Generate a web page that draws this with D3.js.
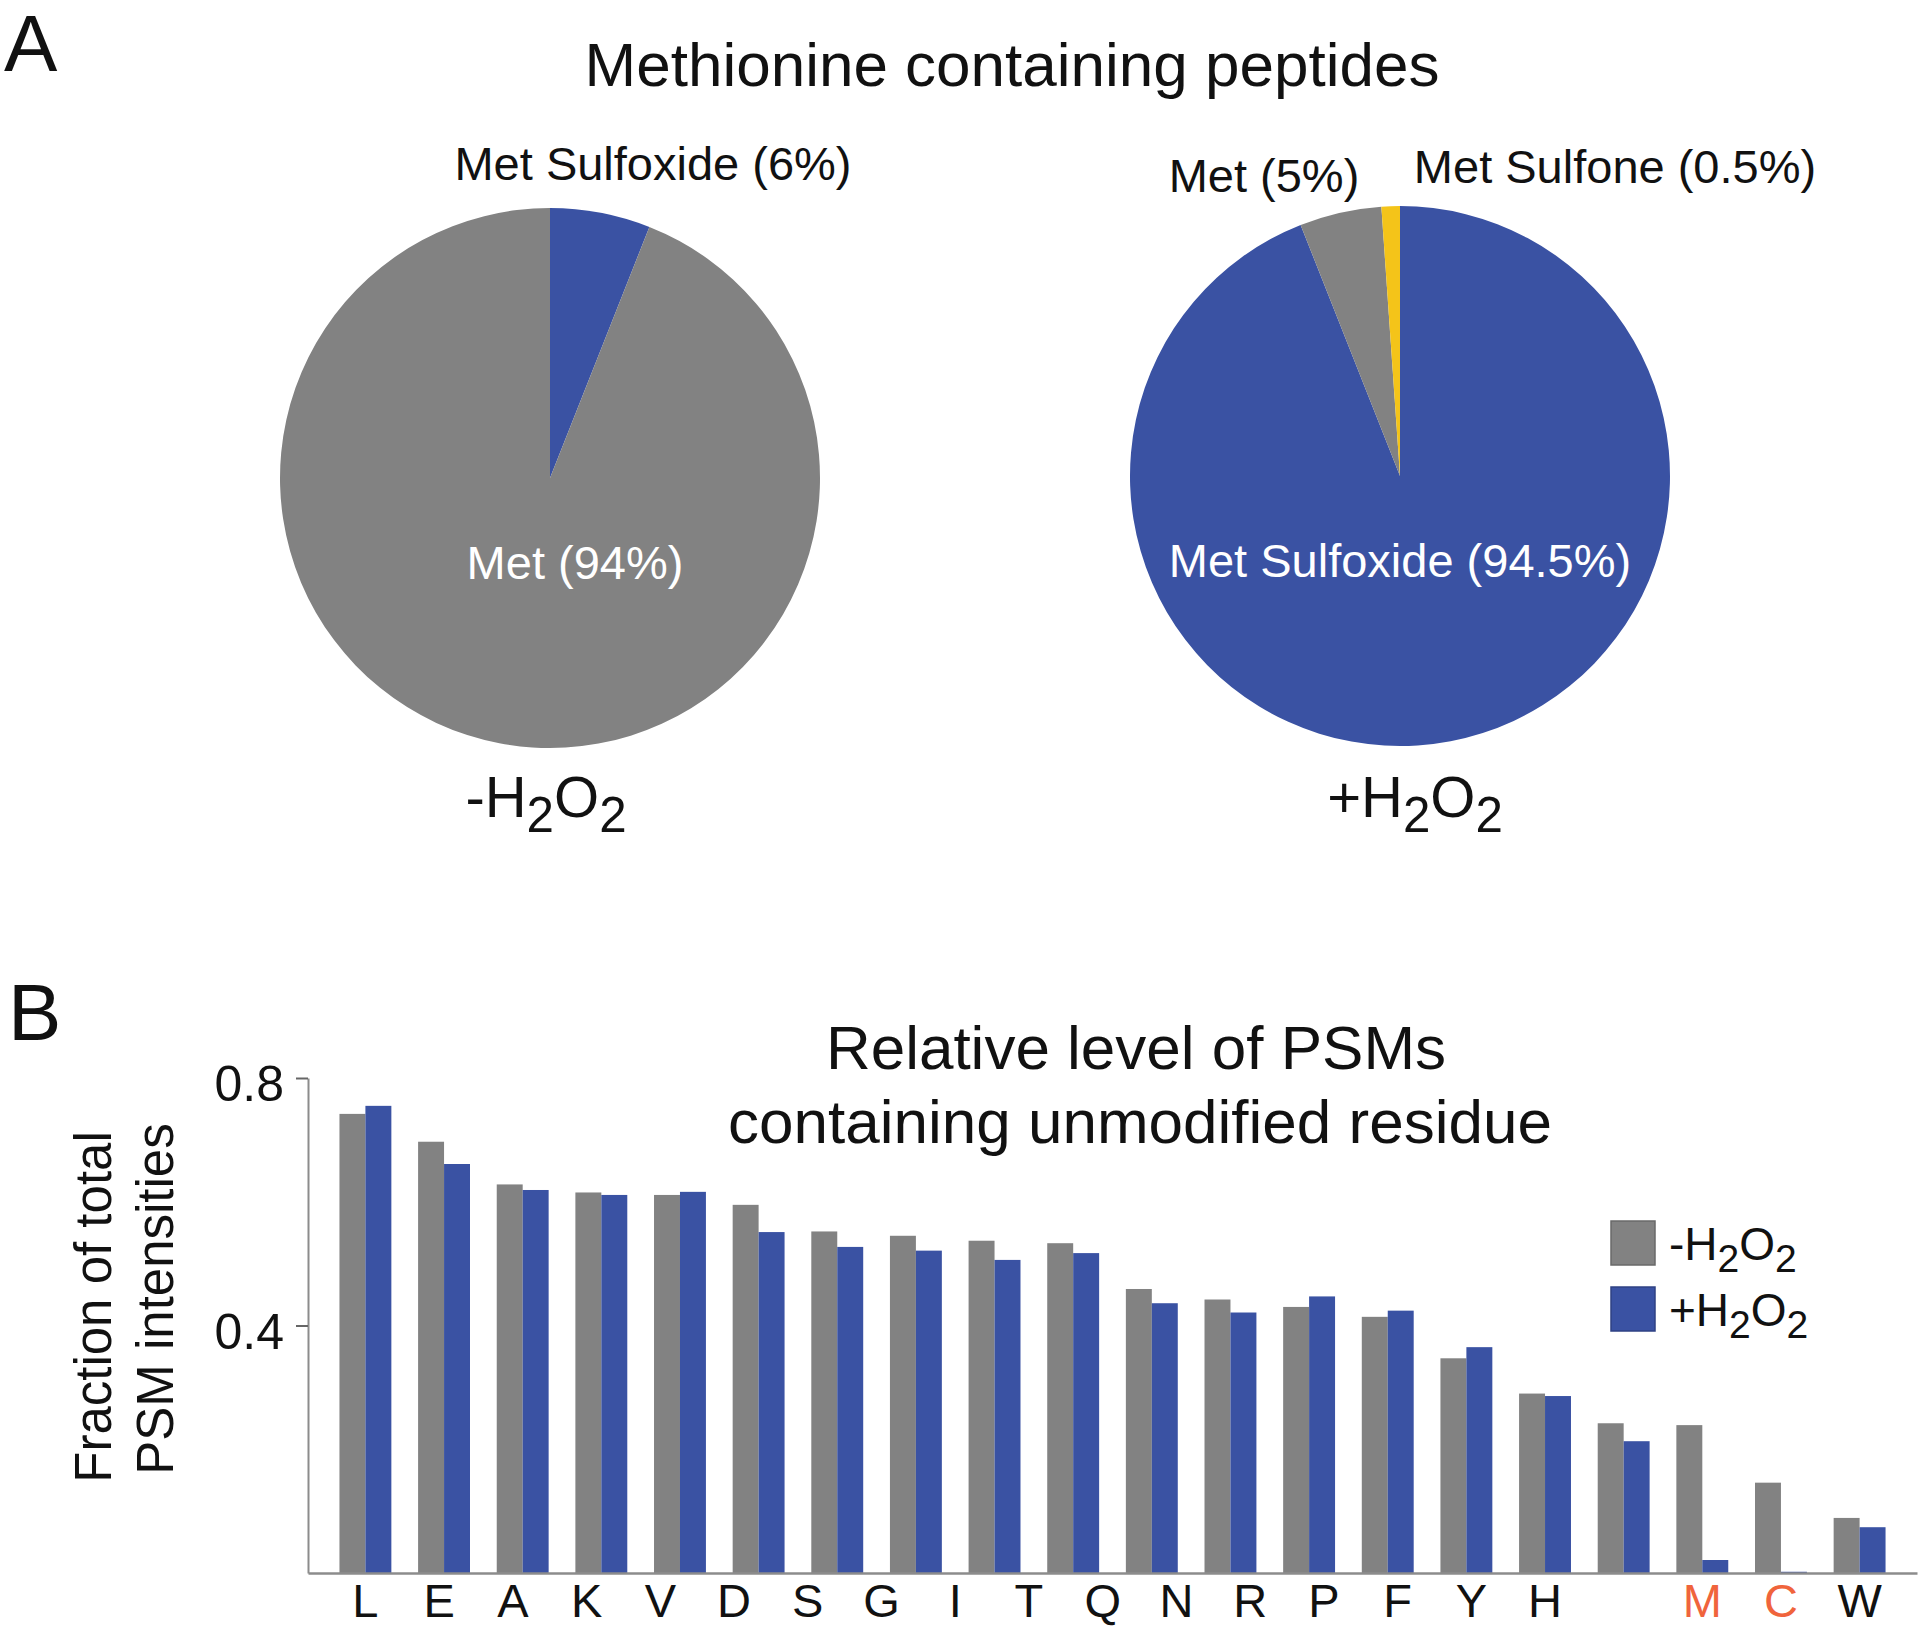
<!DOCTYPE html>
<html>
<head>
<meta charset="utf-8">
<script src="https://cdn.jsdelivr.net/npm/d3@7"></script>
<style>
  html, body { margin: 0; padding: 0; background: #ffffff; }
  svg { display: block; font-family: "Liberation Sans", Arial, Helvetica, sans-serif; }
</style>
</head>
<body>
<script>
// ---------------- DATA ----------------
// Panel A: pie charts (percent of methionine containing peptides)
const pieMinusNames  = ["Met Sulfoxide", "Met"];
const pieMinusValues = [6, 94];
const pieMinusLabels = ["Met Sulfoxide (6%)", "Met (94%)"];

const piePlusNames  = ["Met Sulfoxide", "Met", "Met Sulfone"];
const piePlusValues = [94.0, 4.9, 1.1];
const piePlusLabels = ["Met Sulfoxide (94.5%)", "Met (5%)", "Met Sulfone (0.5%)"];

// Panel B: grouped bars
const categories = ["L","E","A","K","V","D","S","G","I","T","Q","N","R","P","F","Y","H","M","C","W"];
const minusH2O2 = [0.742,0.697,0.628,0.615,0.611,0.595,0.552,0.545,0.537,0.533,0.459,0.442,0.430,0.414,0.347,0.290,0.242,0.239,0.146,0.089];
const plusH2O2  = [0.755,0.661,0.619,0.611,0.616,0.551,0.527,0.521,0.506,0.517,0.436,0.421,0.447,0.424,0.365,0.286,0.213,0.021,0.002,0.074];
const highlightedResidues = ["M","C"];
const yTickValues = [0.4, 0.8];
const seriesKeys = ["minus", "plus"];

// ---------------- STYLE ----------------
const GREY = "#828282", BLUE = "#3a52a3", YELLOW = "#f4c419", RED = "#f0643c";
const TEXT = "#111111", AXIS = "#8c8c8c";

const svg = d3.select("body").append("svg").attr("width", 1920).attr("height", 1630);

// helper for H2O2 with subscripts
function h2o2(textSel, sign, size) {
  const sub = size * 0.85;
  const shift = size * 0.26;
  textSel.append("tspan").attr("font-size", size).text(sign + "H");
  textSel.append("tspan").attr("font-size", sub).attr("dy", shift).text("2");
  textSel.append("tspan").attr("font-size", size).attr("dy", -shift).text("O");
  textSel.append("tspan").attr("font-size", sub).attr("dy", shift).text("2");
}

// ---------------- PANEL A ----------------
svg.append("text").attr("x", 4).attr("y", 71).attr("font-size", 80).attr("fill", TEXT).text("A");
svg.append("text").attr("x", 1012).attr("y", 86).attr("text-anchor", "middle")
  .attr("font-size", 62).attr("fill", TEXT).text("Methionine containing peptides");

const sliceColor = d3.scaleOrdinal().domain(["Met", "Met Sulfoxide", "Met Sulfone"]).range([GREY, BLUE, YELLOW]);
const pieGen = d3.pie().sort(null).value(d => d.value);
const R = 270;
const arcGen = d3.arc().innerRadius(0).outerRadius(R);

function drawPie(cx, cy, names, values) {
  const data = names.map((n, i) => ({ name: n, value: values[i] }));
  const g = svg.append("g").attr("transform", `translate(${cx},${cy})`);
  g.selectAll("path").data(pieGen(data)).join("path")
    .attr("d", arcGen).attr("fill", d => sliceColor(d.data.name));
  return g;
}
drawPie(550, 478, pieMinusNames, pieMinusValues);
drawPie(1400, 476, piePlusNames, piePlusValues);

// pie labels
const LBL = 47;
svg.append("text").attr("x", 653).attr("y", 180).attr("text-anchor", "middle")
  .attr("font-size", LBL).attr("fill", TEXT).text(pieMinusLabels[0]);
svg.append("text").attr("x", 575).attr("y", 579).attr("text-anchor", "middle")
  .attr("font-size", LBL).attr("fill", "#ffffff").text(pieMinusLabels[1]);
svg.append("text").attr("x", 1400).attr("y", 577).attr("text-anchor", "middle")
  .attr("font-size", LBL).attr("fill", "#ffffff").text(piePlusLabels[0]);
svg.append("text").attr("x", 1264).attr("y", 192).attr("text-anchor", "middle")
  .attr("font-size", LBL).attr("fill", TEXT).text(piePlusLabels[1]);
svg.append("text").attr("x", 1615).attr("y", 183).attr("text-anchor", "middle")
  .attr("font-size", LBL).attr("fill", TEXT).text(piePlusLabels[2]);

h2o2(svg.append("text").attr("x", 546).attr("y", 817).attr("text-anchor", "middle").attr("fill", TEXT), "-", 58);
h2o2(svg.append("text").attr("x", 1415).attr("y", 817).attr("text-anchor", "middle").attr("fill", TEXT), "+", 58);

// ---------------- PANEL B ----------------
svg.append("text").attr("x", 8).attr("y", 1040).attr("font-size", 80).attr("fill", TEXT).text("B");
svg.append("text").attr("x", 1136).attr("y", 1069).attr("text-anchor", "middle")
  .attr("font-size", 62).attr("fill", TEXT).text("Relative level of PSMs");
svg.append("text").attr("x", 1140).attr("y", 1143).attr("text-anchor", "middle")
  .attr("font-size", 62).attr("fill", TEXT).text("containing unmodified residue");

const x = d3.scaleBand().domain(categories).range([308, 1917]).paddingInner(0.34).paddingOuter(0.4);
const x1 = d3.scaleBand().domain(seriesKeys).range([0, x.bandwidth()]).padding(0);
const y = d3.scaleLinear().domain([0, 0.8]).range([1573, 1078]);
const seriesColor = d3.scaleOrdinal().domain(seriesKeys).range([GREY, BLUE]);

const rows = categories.map((c, i) => ({ cat: c, minus: minusH2O2[i], plus: plusH2O2[i] }));
const groups = svg.append("g").selectAll("g").data(rows).join("g")
  .attr("transform", d => `translate(${x(d.cat)},0)`);
groups.selectAll("rect").data(d => seriesKeys.map(k => ({ key: k, value: d[k] }))).join("rect")
  .attr("x", d => x1(d.key)).attr("width", x1.bandwidth())
  .attr("y", d => y(d.value)).attr("height", d => y(0) - y(d.value))
  .attr("fill", d => seriesColor(d.key));

// y axis
const yAxis = svg.append("g").attr("transform", "translate(308,0)")
  .call(d3.axisLeft(y).tickValues(yTickValues).tickFormat(d3.format(".1f"))
    .tickSize(12).tickSizeOuter(0).tickPadding(12));
yAxis.select(".domain").attr("stroke", AXIS).attr("stroke-width", 2);
yAxis.selectAll(".tick line").attr("stroke", "#666").attr("stroke-width", 2);
yAxis.selectAll(".tick text").attr("font-size", 50).attr("fill", TEXT)
  .attr("font-family", "Liberation Sans, Arial, sans-serif").attr("dy", "0.45em");

// x axis
const xAxis = svg.append("g").attr("transform", `translate(0,${y(0)})`)
  .call(d3.axisBottom(x).tickSize(0).tickSizeOuter(0).tickPadding(11));
xAxis.select(".domain").attr("stroke", AXIS).attr("stroke-width", 2.5);
xAxis.selectAll(".tick text").attr("font-size", 47)
  .attr("font-family", "Liberation Sans, Arial, sans-serif")
  .attr("fill", d => highlightedResidues.includes(d) ? RED : TEXT);
// the residue letters L..H are set slightly tighter than the bar pairs, as in the figure
const tightCats = categories.slice(0, 17);
const labelX = d3.scalePoint().domain(tightCats)
  .range([x(categories[0]) + x.bandwidth() / 2, x(categories[15]) + x.bandwidth() / 2]);
xAxis.selectAll(".tick").filter(d => tightCats.includes(d))
  .attr("transform", d => `translate(${labelX(d)},0)`);

// y axis title
svg.append("text").attr("transform", "translate(111,1307) rotate(-90)").attr("text-anchor", "middle")
  .attr("font-size", 51).attr("fill", TEXT).text("Fraction of total");
svg.append("text").attr("transform", "translate(173,1299) rotate(-90)").attr("text-anchor", "middle")
  .attr("font-size", 51).attr("fill", TEXT).text("PSM intensities");

// legend
const legend = svg.append("g");
const legendItems = [{ key: "minus", sign: "-", y: 1221 }, { key: "plus", sign: "+", y: 1287 }];
legendItems.forEach(it => {
  legend.append("rect").attr("x", 1611).attr("y", it.y).attr("width", 44).attr("height", 44)
    .attr("fill", seriesColor(it.key)).attr("stroke", d3.color(seriesColor(it.key)).darker(0.6)).attr("stroke-width", 1.5);
  h2o2(legend.append("text").attr("x", 1669).attr("y", it.y + 39).attr("fill", TEXT), it.sign, 46);
});
</script>
</body>
</html>
